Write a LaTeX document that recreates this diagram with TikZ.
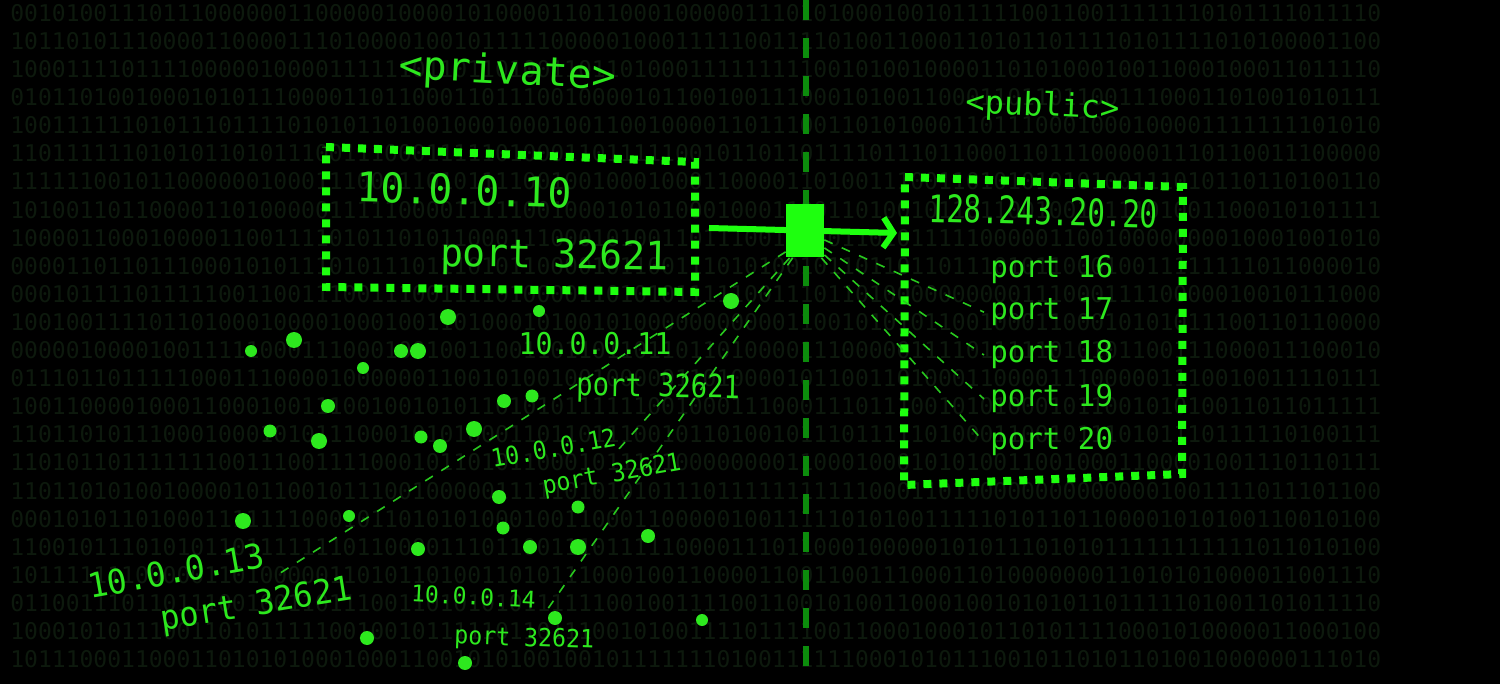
\documentclass[tikz,border=0pt]{standalone}
\usepackage{fontspec}
\newfontfamily\termfont{DejaVu Sans Mono}
\usetikzlibrary{arrows.meta}
\usetikzlibrary{calc}

\definecolor{neon}{RGB}{45,232,30}
\definecolor{neonhi}{RGB}{30,255,15}
\definecolor{raygreen}{RGB}{40,200,30}
\definecolor{railgreen}{RGB}{12,140,12}
\definecolor{ghost}{RGB}{13,25,13}

\tikzset{
  termtext/.style={text=neon, inner sep=0pt, font=\termfont\fontsize{#1}{#1}\selectfont},
  ghostrow/.style={text=ghost, inner sep=0pt, anchor=west, font=\termfont\fontsize{11.5pt}{11.5pt}\selectfont},
  dotbox/.style={draw=neonhi, line width=4pt, dash pattern=on 4pt off 4pt},
  ray/.style={draw=raygreen, line width=0.8pt, dash pattern=on 4.5pt off 5pt},
  blip/.style={circle, fill=neon, inner sep=0pt, minimum size=#1},
  divider/.style={draw=railgreen, line width=3pt, dash pattern=on 10pt off 9pt},
  flow/.style={draw=neonhi, line width=3pt, -{Straight Barb[length=5pt,width=15pt]}},
  hubbox/.style={fill=neonhi, inner sep=0pt, minimum width=19pt, minimum height=26.5pt}
}

\begin{document}
\begin{tikzpicture}[x=0.5pt, y=-0.5pt]
  \fill[black] (0,0) rectangle (1500,684);
  \useasboundingbox (0,0) rectangle (1500,684);

  % faint binary backdrop
  \pgfmathsetseed{2718}
  \foreach \r in {0,...,23}{
    \gdef\bitrow{}
    \foreach \c in {1,...,99}{\pgfmathrandominteger{\bitval}{0}{1}\xdef\bitrow{\bitrow\bitval}}
    \node[ghostrow] (bits\r) at (10,{13+28.1*\r}) {\bitrow};
  }

  \coordinate (railtop) at (806,0);
  \coordinate (railbot) at (806,684);
  \draw[divider] (railtop) -- (railbot);

  % hosts on the private side
  \foreach \x/\y/\s [count=\i] in {251/351/12, 294/340/16, 363/368/12, 401/351/14, 418/351/16,
      448/317/16, 539/311/12, 731/301/16, 328/406/14, 270/431/13, 319/441/16, 421/437/13,
      440/446/14, 474/429/16, 504/401/14, 532/396/13, 499/497/14, 578/507/13, 503/528/13,
      530/547/14, 578/547/16, 648/536/14, 418/549/14, 349/516/12, 243/521/16, 555/618/14,
      702/620/12, 367/638/14, 465/663/14}
    \node[blip=\s*0.5pt] (dot\i) at (\x,\y) {};

  \coordinate (privTL) at (326,147);
  \coordinate (privTR) at (695,162);
  \coordinate (privBR) at (695,292);
  \coordinate (privBL) at (326,287);
  \draw[dotbox] (privTL) -- (privTR) -- (privBR) -- (privBL) -- cycle;

  \coordinate (pubTL) at (905,177);
  \coordinate (pubTR) at (1183,187);
  \coordinate (pubBR) at (1182,474);
  \coordinate (pubBL) at (904,485);
  \draw[dotbox] (pubTL) -- (pubTR) -- (pubBR) -- (pubBL) -- cycle;

  \node[termtext=20pt, rotate=-3, anchor=base] (privlbl) at (507,84) {<private>};
  \node[termtext=16pt, rotate=-2.6, anchor=base] (publbl) at (1042,116) {<public>};

  \node[termtext=20.5pt, rotate=-1.6, xscale=.97, anchor=base] (ip10) at (464,205) {10.0.0.10};
  \node[termtext=19.5pt, rotate=-1, xscale=.97, anchor=base] (pt10) at (554,268) {port 32621};
  \node[termtext=19pt, rotate=-1.5, xscale=.77, anchor=base] (pubip) at (1043,225) {128.243.20.20};
  \foreach \n/\y in {16/278, 17/320, 18/363, 19/407, 20/450}
    \node[termtext=15pt, xscale=.97, anchor=base west] (port\n) at (990,\y) {port \n};

  \node[termtext=15pt, xscale=.94, anchor=base] (ip11) at (595,355) {10.0.0.11};
  \node[termtext=16pt, rotate=-1, xscale=.85, anchor=base] (pt11) at (658,397) {port 32621};
  \node[termtext=12.5pt, rotate=10, xscale=.93, anchor=base] (ip12) at (555,457) {10.0.0.12};
  \node[termtext=12.5pt, rotate=10, xscale=.93, anchor=base] (pt12) at (613,482) {port 32621};
  \node[termtext=17pt, rotate=10, xscale=.97, anchor=base] (ip13) at (178,583) {10.0.0.13};
  \node[termtext=17pt, rotate=9, xscale=.94, anchor=base] (pt13) at (258,615) {port 32621};
  \node[termtext=11.5pt, rotate=-3, anchor=base] (ip14) at (473,605) {10.0.0.14};
  \node[termtext=12.5pt, rotate=-2, xscale=.93, anchor=base] (pt14) at (524,646) {port 32621};

  % the NAT box on the boundary
  \node[hubbox] (hub) at (805,231) {};

  \coordinate (tip13) at (274,577);
  \coordinate (tip12) at (618,450);
  \coordinate (tip14) at (547,610);
  \draw[ray] ($(hub.south west)+(0,-6)$) -- (tip13);
  \draw[ray] ($(hub.south west)+(4,0)$) -- (tip12);
  \draw[ray] ($(hub.south west)+(7,0)$) -- (tip14);
  \foreach \n/\dx/\dy in {17/0/-18, 18/0/-10, 19/0/-3, 20/-3/0}
    \draw[ray] ($(hub.south east)+(\dx,\dy)$) -- ($(port\n.west)+(-6,0)$);

  \coordinate (flowstart) at (709,228);
  \coordinate (flowtip) at (897,233);
  \draw[flow] (flowstart) -- (flowtip);
\end{tikzpicture}
\end{document}
